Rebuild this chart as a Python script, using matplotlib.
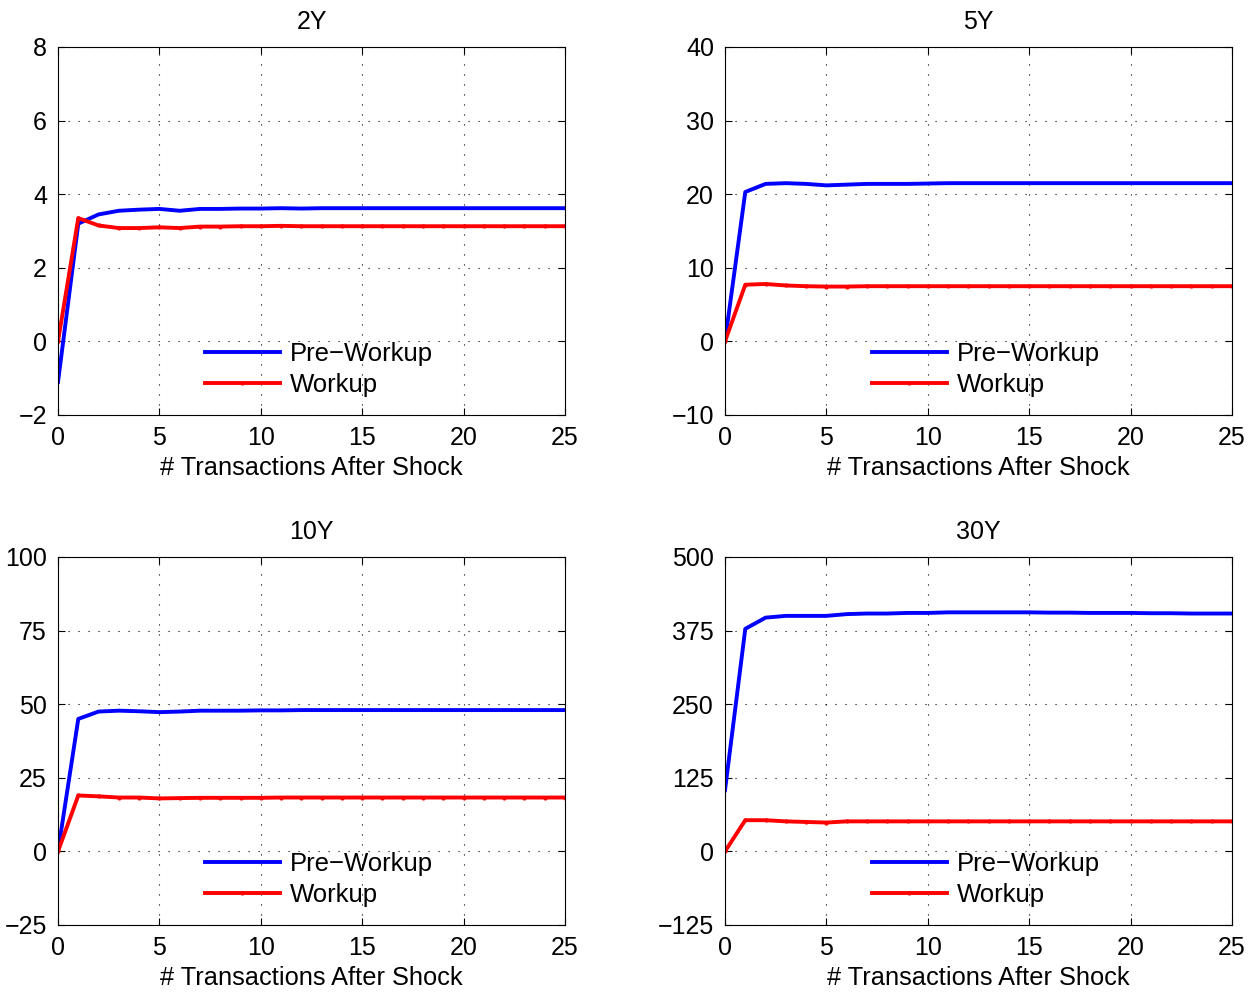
import numpy as np
import matplotlib.pyplot as plt

plt.rcParams['font.family'] = ['Liberation Sans', 'DejaVu Sans']

x = np.arange(26)

titles = ['2Y', '5Y', '10Y', '30Y']

pre_2y = [-1.1, 3.2, 3.45, 3.55, 3.58, 3.6, 3.55, 3.6, 3.6, 3.61, 3.61, 3.62, 3.61, 3.62,
          3.62, 3.62, 3.62, 3.62, 3.62, 3.62, 3.62, 3.62, 3.62, 3.62, 3.62, 3.62]
wk_2y = [0, 3.35, 3.15, 3.08, 3.08, 3.1, 3.08, 3.12, 3.12, 3.13, 3.13, 3.14, 3.13, 3.13,
         3.13, 3.13, 3.13, 3.13, 3.13, 3.13, 3.13, 3.13, 3.13, 3.13, 3.13, 3.13]

pre_5y = [0, 20.3, 21.4, 21.5, 21.4, 21.2, 21.3, 21.4, 21.4, 21.4, 21.45, 21.5, 21.5, 21.5,
          21.5, 21.5, 21.5, 21.5, 21.5, 21.5, 21.5, 21.5, 21.5, 21.5, 21.5, 21.5]
wk_5y = [0, 7.7, 7.8, 7.6, 7.5, 7.45, 7.45, 7.5, 7.5, 7.5, 7.5, 7.5, 7.5, 7.5,
         7.5, 7.5, 7.5, 7.5, 7.5, 7.5, 7.5, 7.5, 7.5, 7.5, 7.5, 7.5]

pre_10y = [0, 45, 47.5, 47.8, 47.6, 47.3, 47.5, 47.8, 47.8, 47.8, 47.9, 47.9, 48, 48,
           48, 48, 48, 48, 48, 48, 48, 48, 48, 48, 48, 48]
wk_10y = [0, 19, 18.7, 18.3, 18.3, 18.0, 18.1, 18.2, 18.2, 18.2, 18.2, 18.3, 18.3, 18.3,
          18.3, 18.3, 18.3, 18.3, 18.3, 18.3, 18.3, 18.3, 18.3, 18.3, 18.3, 18.3]

pre_30y = [104, 378, 397, 400, 400, 400, 403, 404, 404, 405, 405, 406, 406, 406,
           406, 406, 405.5, 405.5, 405, 405, 405, 404.5, 404.5, 404, 404, 404]
wk_30y = [0, 53, 53, 51, 50, 49, 51, 51, 51, 51, 51, 51, 51, 51,
          51, 51, 51, 51, 51, 51, 51, 51, 51, 51, 51, 51]

pre = [pre_2y, pre_5y, pre_10y, pre_30y]
wk = [wk_2y, wk_5y, wk_10y, wk_30y]
ylims = [(-2, 8), (-10, 40), (-25, 100), (-125, 500)]
yticks = [np.arange(-2, 9, 2), np.arange(-10, 41, 10), np.arange(-25, 101, 25), np.arange(-125, 501, 125)]

fig = plt.figure(figsize=(12.59, 9.92), dpi=100)
W, H = 1259, 992
pos = [(58, 47), (725, 47), (58, 557), (725, 557)]
aw, ah = 507, 368

for i in range(4):
    l, t = pos[i]
    ax = fig.add_axes([l / W, 1 - (t + ah) / H, aw / W, ah / H])
    ax.plot(x, pre[i], color='#0000ff', lw=2.8, label='Pre\u2212Workup')
    ax.plot(x, wk[i], color='#ff0000', lw=2.8, marker='.', ms=4, label='Workup')
    ax.set_xlim(0, 25)
    ax.set_ylim(*ylims[i])
    ax.set_xticks([0, 5, 10, 15, 20, 25])
    ax.set_yticks(yticks[i])
    ax.grid(True, color='k', linestyle=(0, (1, 8)), linewidth=0.8)
    ax.tick_params(direction='in', top=True, right=True, labelsize=18, length=5, pad=8)
    ax.set_title(titles[i], fontsize=18, pad=13)
    ax.set_xlabel('# Transactions After Shock', fontsize=18.3, labelpad=4)
    ax.legend(loc='upper left', bbox_to_anchor=(0.27, 0.225), frameon=False, fontsize=18.5,
              handlelength=2.9, handletextpad=0.4, labelspacing=0.25, borderaxespad=0)

fig.savefig('out.png', dpi=100)
